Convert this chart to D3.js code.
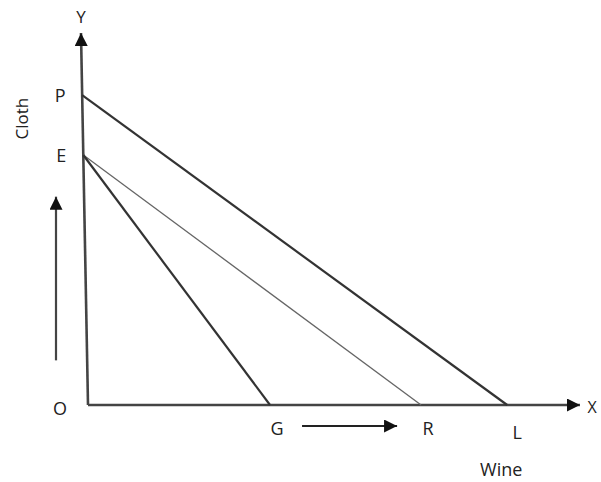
<!DOCTYPE html>
<html>
<head>
<meta charset="utf-8">
<script src="https://cdn.jsdelivr.net/npm/d3@7.8.5/dist/d3.min.js"></script>
<style>
  html, body { margin: 0; padding: 0; background: #fff; }
  svg { display: block; }
  text { font-family: "Open Sans", Lato, sans-serif; fill: #222; }
</style>
</head>
<body>
<svg id="chart" width="601" height="482"></svg>
<script>
// intercepts on the Cloth (y) axis
const yPoints = [
    { name: 'P', value: 83.3 },
    { name: 'E', value: 67.2 }
];
// intercepts on the Wine (x) axis
const xPoints = [
    { name: 'G', value: 37 },
    { name: 'R', value: 67.7 },
    { name: 'L', value: 85.2 }
];
// lines joining a y intercept to an x intercept
const segments = [
    { from: 'P', to: 'L', width: 2.2, color: '#333' },
    { from: 'E', to: 'R', width: 1.3, color: '#666' },
    { from: 'E', to: 'G', width: 2.2, color: '#333' }
];
const axisTitles = { x: 'Wine', y: 'Cloth' };

const svg = d3.select('#chart');
const x = d3.scaleLinear().domain([0, 100]).range([88, 580]);
const y = d3.scaleLinear().domain([0, 100]).range([405, 33]);

// the hand-drawn y axis leans a little to the left at the top
const lean = 7;
const axisX = v => x(0) - lean * (v / 100);

const defs = svg.append('defs');
defs.append('marker')
    .attr('id', 'head')
    .attr('viewBox', '0 -5 10 10')
    .attr('refX', 10)
    .attr('refY', 0)
    .attr('orient', 'auto')
    .attr('markerUnits', 'userSpaceOnUse')
    .attr('markerWidth', 17)
    .attr('markerHeight', 13)
    .append('path')
    .attr('d', 'M0,-5L10,0L0,5Z')
    .attr('fill', '#111');

// axes
svg.append('line')
    .attr('x1', x(0)).attr('y1', y(0))
    .attr('x2', axisX(100)).attr('y2', y(100))
    .attr('stroke', '#444').attr('stroke-width', 2.6)
    .attr('marker-end', 'url(#head)');
svg.append('line')
    .attr('x1', x(0)).attr('y1', y(0))
    .attr('x2', x(100)).attr('y2', y(0))
    .attr('stroke', '#444').attr('stroke-width', 2.6)
    .attr('marker-end', 'url(#head)');

// budget lines
const yLookup = Object.fromEntries(yPoints.map(d => [d.name, d.value]));
const xLookup = Object.fromEntries(xPoints.map(d => [d.name, d.value]));
svg.append('g')
    .selectAll('line')
    .data(segments)
    .join('line')
    .attr('x1', d => axisX(yLookup[d.from]))
    .attr('y1', d => y(yLookup[d.from]))
    .attr('x2', d => x(xLookup[d.to]))
    .attr('y2', y(0))
    .attr('stroke', d => d.color)
    .attr('stroke-width', d => d.width);

// point labels
svg.append('g')
    .selectAll('text')
    .data(yPoints)
    .join('text')
    .attr('x', d => axisX(d.value) - 22)
    .attr('y', d => y(d.value) + 7)
    .attr('text-anchor', 'middle')
    .attr('font-size', 18)
    .text(d => d.name);

svg.append('g')
    .selectAll('text')
    .data(xPoints)
    .join('text')
    .attr('x', d => x(d.value) + 7 + (d.name === 'L' ? 3 : 0))
    .attr('y', d => y(0) + 30 + (d.name === 'L' ? 4 : 0))
    .attr('text-anchor', 'middle')
    .attr('font-size', 18)
    .text(d => d.name);

svg.append('text')
    .attr('x', x(0) - 28).attr('y', y(0) + 10)
    .attr('text-anchor', 'middle').attr('font-size', 18)
    .text('O');
svg.append('text')
    .attr('x', axisX(100)).attr('y', 23)
    .attr('text-anchor', 'middle').attr('font-size', 17)
    .text('Y');
svg.append('text')
    .attr('x', x(100) + 12).attr('y', y(0) + 8)
    .attr('text-anchor', 'middle').attr('font-size', 16)
    .text('X');

// axis titles
svg.append('text')
    .attr('transform', `translate(28, ${y(77)}) rotate(-90)`)
    .attr('text-anchor', 'middle').attr('font-size', 17)
    .text(axisTitles.y);
svg.append('text')
    .attr('x', x(84)).attr('y', y(0) + 71)
    .attr('text-anchor', 'middle').attr('font-size', 18)
    .text(axisTitles.x);

// direction arrows
svg.append('line')
    .attr('x1', 56).attr('y1', y(12))
    .attr('x2', 56).attr('y2', y(56))
    .attr('stroke', '#444').attr('stroke-width', 2.2)
    .attr('marker-end', 'url(#head)');
svg.append('line')
    .attr('x1', x(xLookup.G) + 32).attr('y1', y(0) + 21)
    .attr('x2', x(xLookup.R) - 24).attr('y2', y(0) + 21)
    .attr('stroke', '#222').attr('stroke-width', 2.2)
    .attr('marker-end', 'url(#head)');
</script>
</body>
</html>
